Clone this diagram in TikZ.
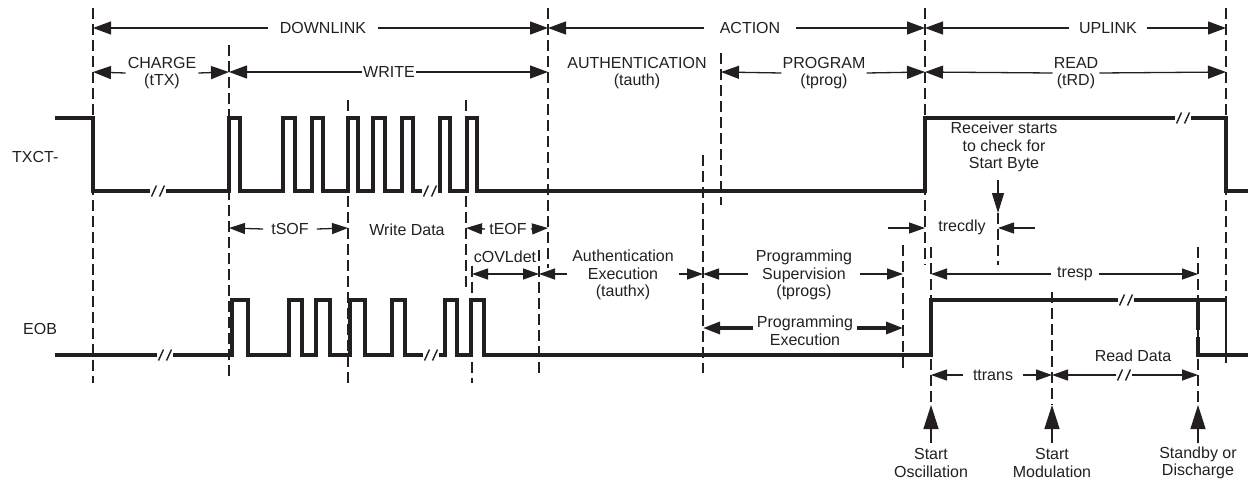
\documentclass[tikz,border=0pt]{standalone}
\usepackage{fontspec}
\setmainfont{Liberation Sans}
\usetikzlibrary{arrows.meta}
\definecolor{ink}{HTML}{231F20}
\newcommand\brkmark[2]{%
  \fill[white] ({#1-8},{#2-3}) rectangle ({#1+8},{#2+3});
  \draw[brk] ({#1-6.5},{#2+5.5}) -- ({#1-1.5},{#2-5.5}) ({#1+1.5},{#2+5.5}) -- ({#1+6.5},{#2-5.5});}
\begin{document}
\begin{tikzpicture}[x=1pt,y=-1pt,
  lbl/.style={font=\fontsize{16}{17.5}\selectfont, text=ink, inner ysep=0pt, inner xsep=0pt, align=center},
  guide/.style={draw=ink, line width=1.6pt, dash pattern=on 11pt off 5pt},
  sig/.style={draw=ink, line width=3.3pt, line join=miter},
  dimA/.style={draw=ink, line width=1.3pt, -{Triangle[length=18pt,width=13pt]}},
  dimB/.style={draw=ink, line width=1.3pt, -{Triangle[length=16pt,width=11pt]}},
  dimBB/.style={draw=ink, line width=1.3pt, {Triangle[length=16pt,width=11pt]}-{Triangle[length=16pt,width=11pt]}},
  pearr/.style={draw=ink, line width=3.3pt, -{Triangle[length=17pt,width=12pt]}},
  uparr/.style={draw=ink, line width=1.3pt, -{Triangle[length=24pt,width=15pt]}},
  brk/.style={draw=ink, line width=1.4pt}]
\useasboundingbox (0,0) rectangle (1248,482);

% ---------- guide (dashed) lines ----------
\draw[guide] (93,8) -- (93,383);
\draw[guide] (229,45) -- (229,378);
\draw[guide] (348,100) -- (348,383);
\draw[guide] (466,100) -- (466,292);
\draw[guide] (472,266) -- (472,383);
\draw[guide] (548,8) -- (548,268);
\draw[guide] (539,250) -- (539,373);
\draw[guide] (703,155) -- (703,373);
\draw[guide] (721,53) -- (721,205);
\draw[guide] (925,8) -- (925,265);
\draw[guide] (903,245) -- (903,373);
\draw[guide] (931,247) -- (931,405);
\draw[guide] (998,213) -- (998,265);
\draw[guide] (1052,292) -- (1052,405);
\draw[guide] (1198,247) -- (1198,405);
\draw[guide] (1226,8) -- (1226,363);

% ---------- signals ----------
\node[lbl, anchor=west] (txct) at (12,157) {TXCT-};
\node[lbl, anchor=west] (eob) at (23,329) {EOB};

\draw[sig] (55,118) -- (93,118) -- (93,191) -- (229,191)
  -- (229,118) -- (240,118) -- (240,191) -- (283,191)
  -- (283,118) -- (295,118) -- (295,191) -- (312,191)
  -- (312,118) -- (323,118) -- (323,191) -- (348,191)
  -- (348,118) -- (358,118) -- (358,191) -- (373,191)
  -- (373,118) -- (385,118) -- (385,191) -- (402,191)
  -- (402,118) -- (413,118) -- (413,191) -- (440,191)
  -- (440,118) -- (450,118) -- (450,191) -- (467,191)
  -- (467,118) -- (477,118) -- (477,191) -- (925,191)
  -- (925,118) -- (1226,118) -- (1226,191) -- (1248,191);

\draw[sig] (55,355) -- (232,355)
  -- (232,300) -- (248,300) -- (248,355) -- (289,355)
  -- (289,300) -- (302,300) -- (302,355) -- (316,355)
  -- (316,300) -- (330,300) -- (330,355) -- (350,355)
  -- (350,300) -- (365,300) -- (365,355) -- (392,355)
  -- (392,300) -- (405,300) -- (405,355) -- (445,355)
  -- (445,300) -- (457,300) -- (457,355) -- (471,355)
  -- (471,300) -- (484,300) -- (484,355) -- (931,355)
  -- (931,300) -- (1226,300);
\draw[draw=ink, line width=2.2pt] (1226,298.4) -- (1226,363);
\draw[sig] (1198,300) -- (1198,330);
\draw[sig] (1198,337) -- (1198,355) -- (1248,355);

\brkmark{158}{191}
\brkmark{430}{191}
\brkmark{1183}{118}
\brkmark{165}{355}
\brkmark{431}{355}
\brkmark{1126}{300}

% ---------- row 1 ----------
\node[lbl, inner xsep=12pt] (dl) at (323,28) {DOWNLINK};
\draw[dimA] (dl.west) -- (93,28);
\draw[dimA] (dl.east) -- (548,28);
\node[lbl, inner xsep=16pt] (act) at (750,28) {ACTION};
\draw[dimA] (act.west) -- (548,28);
\draw[dimA] (act.east) -- (925,28);
\node[lbl, inner xsep=10pt] (up) at (1108,28) {UPLINK};
\draw[dimA] (up.west) -- (925,28);
\draw[dimA] (up.east) -- (1226,28);

% ---------- row 2 ----------
\node[lbl, inner xsep=2pt] (chg) at (162,73) {CHARGE\\(tTX)};
\draw[dimA] (chg.west) -- (93,72);
\draw[dimA] (chg.east) -- (229,72);
\node[lbl, inner xsep=1pt] (wr) at (389,72) {WRITE};
\draw[dimA] (wr.west) -- (229,72);
\draw[dimA] (wr.east) -- (548,72);
\node[lbl] (auth) at (637,73) {AUTHENTICATION\\(tauth)};
\node[lbl, inner xsep=1pt] (prog) at (824,73) {PROGRAM\\(tprog)};
\draw[dimA] (prog.west) -- (721,72);
\draw[dimA] (prog.east) -- (925,72);
\node[lbl, inner xsep=1pt] (rd) at (1076,73) {READ\\(tRD)};
\draw[dimA] (rd.west) -- (925,72);
\draw[dimA] (rd.east) -- (1226,72);

% ---------- receiver note ----------
\node[lbl] (rcv) at (1004,147) {Receiver starts\\to check for\\Start Byte};
\coordinate (sbtop) at (998,180);
\coordinate (sbtip) at (998,213);
\draw[draw=ink, line width=1.3pt, -{Triangle[length=20pt,width=12pt]}] (sbtop) -- (sbtip);

% ---------- row 3 ----------
\node[lbl, inner xsep=8pt] (tsof) at (290,229) {tSOF};
\draw[dimB] (tsof.west) -- (229,228);
\draw[dimB] (tsof.east) -- (348,228);
\node[lbl] (wd) at (407,230) {Write Data};
\node[lbl, inner xsep=4pt] (teof) at (508,229) {tEOF};
\draw[dimB] (teof.west) -- (466,228);
\draw[dimB] (teof.east) -- (548,228);
\node[lbl] (trec) at (962,227) {trecdly};
\coordinate (trl) at (888,228);
\coordinate (trr) at (1035,228);
\draw[dimB] (trl) -- (925,228);
\draw[dimB] (trr) -- (998,228);

% ---------- row 4 ----------
\node[lbl] (covl) at (505,257) {cOVLdet};
\coordinate (covlL) at (472,274);
\coordinate (covlR) at (539,274);
\draw[dimBB] (covlL) -- (covlR);
\node[lbl, inner xsep=5pt] (aex) at (623,275) {Authentication\\Execution\\(tauthx)};
\draw[dimB] (aex.west |- covlR) -- (539,274);
\draw[dimB] (aex.east |- covlR) -- (703,274);
\node[lbl, inner xsep=8pt] (psv) at (804,275) {Programming\\Supervision\\(tprogs)};
\draw[dimB] (psv.west |- covlR) -- (703,274);
\draw[dimB] (psv.east |- covlR) -- (903,274);
\node[lbl, inner xsep=6pt] (tresp) at (1075,274) {tresp};
\draw[dimB] (tresp.west) -- (931,274);
\draw[dimB] (tresp.east) -- (1198,274);

% ---------- row 5 ----------
\node[lbl, inner xsep=4pt] (pex) at (805,331) {Programming\\Execution};
\coordinate (pey) at (0,328);
\draw[pearr] (pex.west |- pey) -- (703,328);
\draw[pearr] (pex.east |- pey) -- (903,328);

% ---------- row 6 ----------
\node[lbl, inner xsep=10pt] (ttr) at (993,375) {ttrans};
\draw[dimB] (ttr.west) -- (931,375);
\draw[dimB] (ttr.east) -- (1052,375);
\node[lbl] (rdd) at (1133,356) {Read Data};
\coordinate (rdL) at (1052,375);
\coordinate (rdR) at (1198,375);
\draw[dimBB] (rdL) -- (rdR);
\brkmark{1124}{375}

% ---------- bottom events ----------
\node[lbl] (sosc) at (931,463) {Start\\Oscillation};
\node[lbl] (smod) at (1052,463) {Start\\Modulation};
\node[lbl] (sdis) at (1198,463) {Standby or\\Discharge};
\draw[uparr] (sosc.north |- 0,443) -- (931,405);
\draw[uparr] (smod.north |- 0,443) -- (1052,405);
\draw[uparr] (sdis.north |- 0,443) -- (1198,405);
\end{tikzpicture}
\end{document}
